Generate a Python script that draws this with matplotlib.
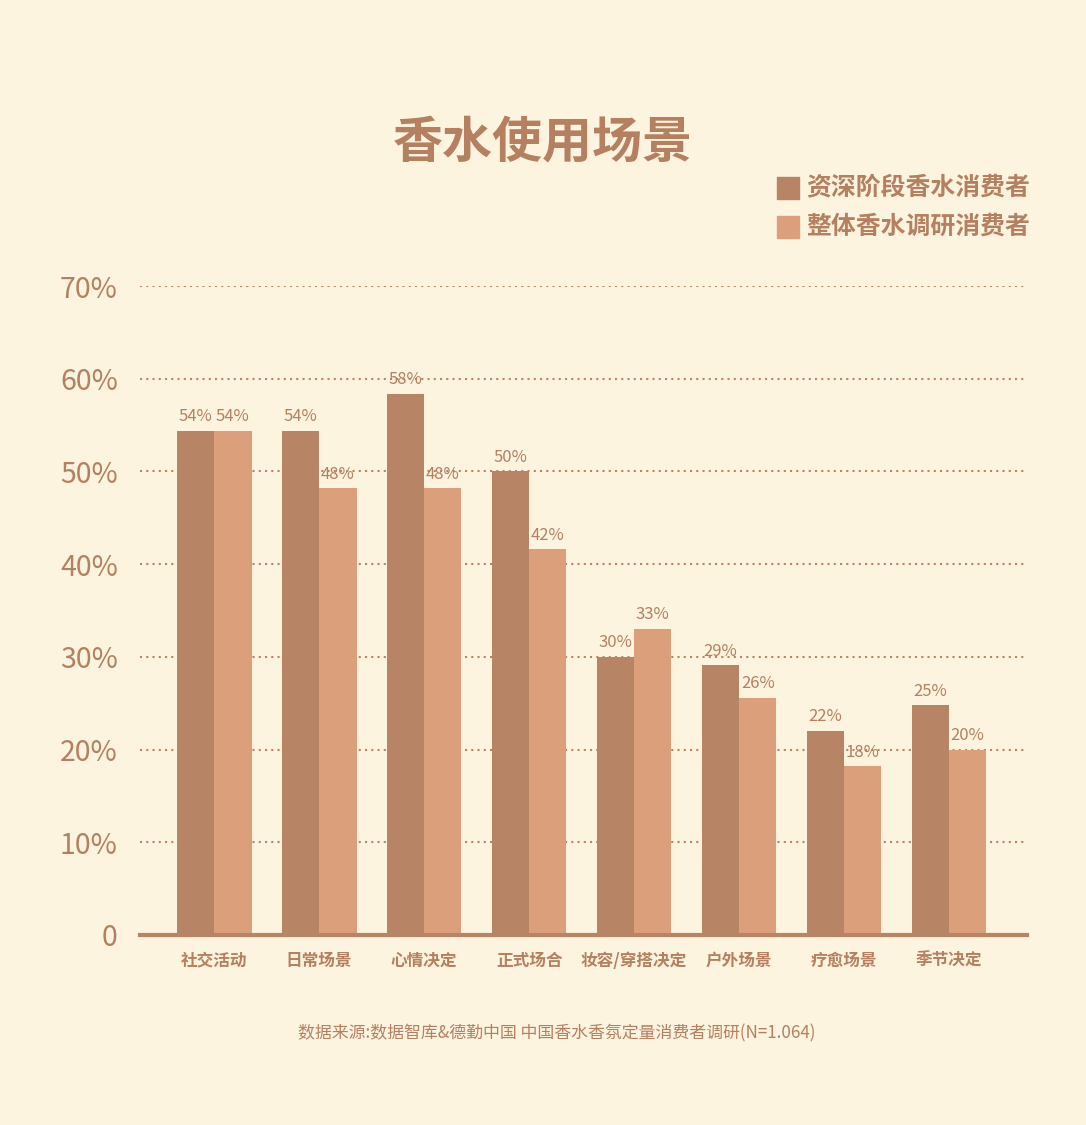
import numpy as np
import matplotlib.pyplot as plt

plt.rcParams['font.family'] = ['Noto Sans CJK SC', 'DejaVu Sans']

categories = ["社交活动", "日常场景", "心情决定", "正式场合", "妆容/穿搭决定", "户外场景", "疗愈场景", "季节决定"]
senior = [54.4, 54.4, 58.4, 50.0, 30.0, 29.1, 22.0, 24.8]
overall = [54.4, 48.2, 48.2, 41.6, 33.0, 25.6, 18.2, 20.0]
series_names = ["资深阶段香水消费者", "整体香水调研消费者"]
yticks = [0, 10, 20, 30, 40, 50, 60, 70]

BG = "#FDF4E0"
DARK = "#B78565"
LIGHT = "#DBA07B"
TXT = "#B5805F"

W, H = 1086, 1125
fig = plt.figure(figsize=(W / 100, H / 100), dpi=100, facecolor=BG)
ax = fig.add_axes([140 / W, 1 - 935 / H, (1027 - 140) / W, (935 - 286) / H])
ax.set_facecolor(BG)

x = np.arange(len(categories))
bw = 0.357
b1 = ax.bar(x - bw / 2, senior, bw, color=DARK, zorder=3)
b2 = ax.bar(x + bw / 2, overall, bw, color=LIGHT, zorder=3)

for bars, vals in [(b1, senior), (b2, overall)]:
    for rect, v in zip(bars, vals):
        ax.text(rect.get_x() + rect.get_width() / 2, v + 0.6, f"{v:.0f}%",
                ha="center", va="bottom", fontsize=12, color=TXT, zorder=4)

ax.set_xlim(-0.705, 7.743)
ax.set_ylim(0, 70)
for s in ["left", "right", "top"]:
    ax.spines[s].set_visible(False)
ax.spines["bottom"].set_color(DARK)
ax.spines["bottom"].set_linewidth(3)
ax.spines["bottom"].set_zorder(5)

ax.set_yticks(yticks)
ax.set_yticklabels(["0" if t == 0 else f"{t}%" for t in yticks], fontsize=20.5, color=TXT)
ax.tick_params(axis="y", length=0, pad=16)
ax.set_xticks(x)
ax.set_xticklabels(categories, fontsize=12, fontweight="bold", color=TXT)
ax.tick_params(axis="x", length=0, pad=12)

for t in yticks[1:]:
    ax.axhline(t, color=DARK, linestyle=(0, (1, 2)), linewidth=1.5, zorder=1)

fig.text(543 / W, 1 - 143 / H, "香水使用场景", ha="center", va="center",
         fontsize=36, fontweight="bold", color=TXT)

for i, (name, c) in enumerate(zip(series_names, [DARK, LIGHT])):
    yc = 1 - (188 + 39 * i) / H
    fig.patches.append(plt.Rectangle((777 / W, yc - 11 / H), 22 / W, 22 / H,
                                     transform=fig.transFigure, color=c, figure=fig))
    fig.text(806 / W, yc, name, ha="left", va="center", fontsize=17.9,
             fontweight="bold", color=TXT)

fig.text(557 / W, 1 - 1033 / H, "数据来源:数据智库&德勤中国 中国香水香氛定量消费者调研(N=1.064)",
         ha="center", va="center", fontsize=12.2, color=TXT)

fig.savefig("out.png", dpi=100, facecolor=BG)
